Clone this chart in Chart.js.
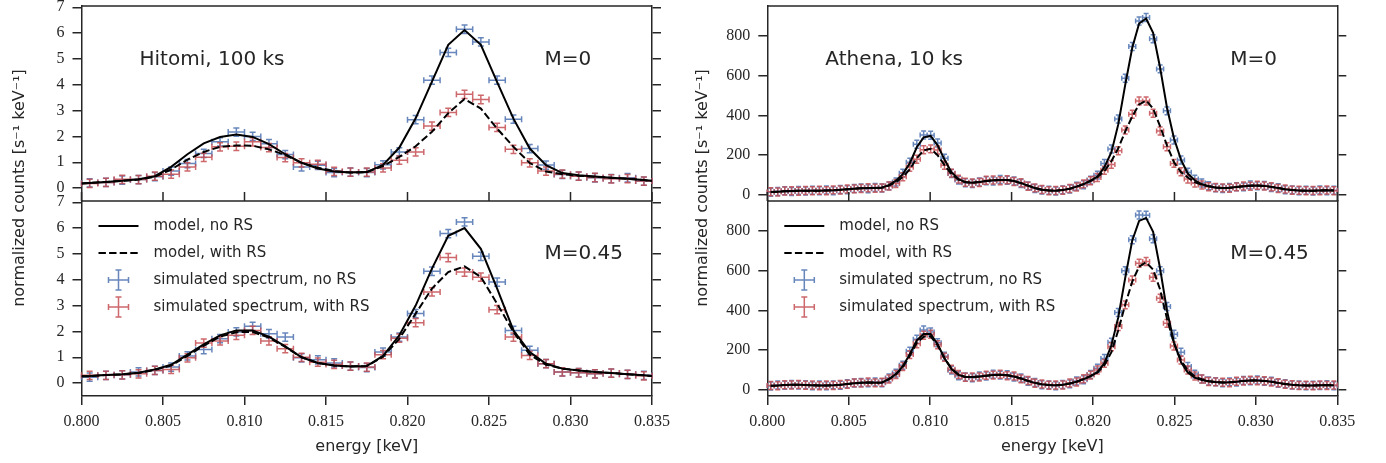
<!DOCTYPE html>
<html>
<head>
<meta charset="utf-8">
<title>Hitomi / Athena line spectra</title>
<script src="https://cdn.jsdelivr.net/npm/chart.js@4.4.1/dist/chart.umd.min.js"></script>
<style>
  html, body { margin: 0; padding: 0; background: #fff; }
  body { width: 1386px; height: 463px; position: relative; overflow: hidden; }
  canvas { position: absolute; top: 0; }
  #hitomi { left: 0; }
  #athena { left: 683px; }
</style>
</head>
<body>
<canvas id="hitomi" width="683" height="463"></canvas>
<canvas id="athena" width="703" height="463"></canvas>
<script>
// ---- Hitomi, 100 ks (1 eV bins) ----
const hitModelE = [0.800,0.8005,0.8015,0.8025,0.8035,0.8045,0.8055,0.8065,0.8075,0.8085,0.8095,0.8105,0.8115,0.8125,0.8135,0.8145,0.8155,0.8165,0.8175,0.8185,0.8195,0.8205,0.8215,0.8225,0.8235,0.8245,0.8255,0.8265,0.8275,0.8285,0.8295,0.8305,0.8315,0.8325,0.8335,0.8345,0.835];
const hitBinE = [0.8005,0.8015,0.8025,0.8035,0.8045,0.8055,0.8065,0.8075,0.8085,0.8095,0.8105,0.8115,0.8125,0.8135,0.8145,0.8155,0.8165,0.8175,0.8185,0.8195,0.8205,0.8215,0.8225,0.8235,0.8245,0.8255,0.8265,0.8275,0.8285,0.8295,0.8305,0.8315,0.8325,0.8335,0.8345];

const hitM0Model = [0.18,0.20,0.24,0.28,0.34,0.46,0.82,1.31,1.73,1.98,2.07,1.98,1.70,1.31,0.98,0.76,0.64,0.60,0.62,0.90,1.57,2.70,4.12,5.55,6.12,5.55,4.10,2.69,1.53,0.89,0.58,0.50,0.45,0.40,0.36,0.31,0.28];
const hitM0ModelRS = [0.18,0.20,0.24,0.28,0.33,0.44,0.72,1.10,1.40,1.60,1.65,1.64,1.50,1.28,0.98,0.79,0.66,0.60,0.62,0.85,1.21,1.62,2.18,2.90,3.45,3.08,2.30,1.60,0.97,0.64,0.54,0.48,0.44,0.40,0.36,0.31,0.28];
const hitM0Data = [0.20,0.22,0.31,0.33,0.44,0.66,0.95,1.34,1.79,2.17,2.00,1.72,1.30,0.82,0.88,0.60,0.62,0.60,0.90,1.40,2.65,4.18,5.25,6.15,5.66,4.18,2.67,1.53,0.89,0.53,0.46,0.40,0.37,0.40,0.27];
const hitM0DataRS = [0.18,0.22,0.34,0.33,0.46,0.54,0.82,1.19,1.60,1.62,1.79,1.57,1.18,0.98,0.92,0.65,0.62,0.62,0.78,1.08,1.40,2.40,2.93,3.63,3.43,2.35,1.50,0.98,0.66,0.54,0.46,0.41,0.36,0.37,0.27];

const hitM45Model = [0.26,0.27,0.31,0.34,0.40,0.53,0.71,1.10,1.50,1.85,2.04,2.04,1.80,1.42,1.00,0.78,0.68,0.64,0.66,1.05,1.85,3.00,4.43,5.70,6.00,5.20,3.66,2.04,1.20,0.75,0.56,0.49,0.43,0.39,0.34,0.30,0.27];
const hitM45ModelRS = [0.26,0.27,0.31,0.34,0.39,0.51,0.68,1.05,1.45,1.80,1.97,1.98,1.76,1.40,1.00,0.78,0.68,0.64,0.66,1.02,1.72,2.69,3.66,4.30,4.52,4.11,3.07,1.98,1.10,0.71,0.56,0.49,0.43,0.39,0.34,0.30,0.27];
const hitM45Data = [0.23,0.30,0.32,0.43,0.49,0.62,1.05,1.30,1.72,1.98,2.20,1.91,1.78,0.98,0.90,0.78,0.66,0.60,1.20,1.78,2.69,4.33,5.79,6.24,4.91,3.91,2.04,1.27,0.75,0.43,0.40,0.36,0.39,0.34,0.30];
const hitM45DataRS = [0.30,0.30,0.32,0.36,0.49,0.53,0.98,1.55,1.63,1.85,2.04,1.63,1.33,1.00,0.81,0.72,0.66,0.62,1.10,1.74,2.34,3.53,4.86,4.30,4.10,2.84,1.78,1.07,0.75,0.43,0.40,0.36,0.39,0.34,0.28];

// ---- Athena, 10 ks (~0.43 eV bins) ----
const athE = [0.80021,0.80064,0.80107,0.80149,0.80192,0.80235,0.80277,0.80320,0.80363,0.80405,
  0.80448,0.80491,0.80534,0.80576,0.80619,0.80662,0.80704,0.80747,0.80790,0.80832,
  0.80875,0.80918,0.80960,0.81003,0.81046,0.81088,0.81131,0.81174,0.81216,0.81259,
  0.81302,0.81344,0.81387,0.81430,0.81473,0.81515,0.81558,0.81601,0.81643,0.81686,
  0.81729,0.81771,0.81814,0.81857,0.81899,0.81942,0.81985,0.82027,0.82070,0.82113,
  0.82155,0.82198,0.82241,0.82283,0.82326,0.82369,0.82412,0.82454,0.82497,0.82540,
  0.82582,0.82625,0.82668,0.82710,0.82753,0.82796,0.82838,0.82881,0.82924,0.82966,
  0.83009,0.83052,0.83095,0.83137,0.83180,0.83223,0.83265,0.83308,0.83351,0.83393,
  0.83436,0.83479];

const athM0Model = [15,17,19,20,21,22,22,22,23,24, 26,29,32,34,35,35,38,50,72,105,
  160,240,290,297,250,178,115,80,65,62, 65,70,74,76,75,70,60,47,35,27,
  23,22,25,32,42,55,72,92,140,215, 355,555,740,862,887,815,640,440,285,178,
  108,74,54,44,38,35,36,40,44,47, 48,46,41,35,29,25,23,22,22,23, 24,23];
const athM0ModelRS = [15,17,19,20,21,22,22,22,23,24, 26,29,32,34,35,35,37,48,65,90,
  130,185,225,232,200,150,105,78,64,62, 65,70,74,76,75,70,60,47,35,27,
  23,22,25,32,42,55,70,90,120,170, 235,320,395,455,475,435,345,250,165,115,
  88,65,52,44,38,35,36,40,44,47, 48,46,41,35,29,25,23,22,22,23, 24,23];
const athM0Data = [14,18,22,18,23,20,24,21,25,22, 28,27,33,36,32,38,35,46,66,110,
  165,255,302,300,262,185,108,75,62,58, 66,72,70,78,74,71,58,46,33,25,
  24,20,26,30,44,52,75,100,159,231, 382,587,746,875,892,785,634,423,277,176,
  114,80,60,47,36,33,38,42,41,50, 46,48,38,37,27,26,21,24,20,25, 22,24];
const athM0DataRS = [16,15,20,22,19,23,21,24,22,26, 25,30,31,33,37,34,36,45,58,92,
  140,180,228,232,226,150,110,80,64,60, 63,74,76,72,77,68,62,44,36,28,
  22,23,24,33,40,56,72,88,125,154, 223,327,406,473,473,411,322,243,159,117,
  80,60,50,42,38,36,34,41,45,44, 49,45,42,33,30,24,24,21,23,22, 25,22];

const athM45Model = [22,23,25,26,26,25,24,23,23,24, 26,30,34,37,38,37,38,55,80,120,
  180,250,282,282,230,160,105,76,66,65, 68,72,76,77,74,68,58,46,36,29,
  25,24,27,33,42,55,70,90,135,225, 365,565,752,850,865,795,610,400,240,140,
  88,62,50,44,40,38,39,42,46,48, 48,46,42,36,30,26,24,23,23,24, 25,24];
const athM45ModelRS = [22,23,25,26,26,25,24,23,23,24, 26,30,34,37,38,37,38,55,78,115,
  172,238,268,270,225,160,108,78,66,65, 68,72,76,77,74,68,58,46,36,29,
  25,24,27,33,42,55,70,88,125,190, 300,430,545,620,642,605,505,360,235,150,
  98,68,54,44,40,38,39,42,46,48, 48,46,42,36,30,26,24,23,23,24, 25,24];
const athM45Data = [20,25,24,28,25,27,22,25,21,26, 24,32,35,38,36,40,37,60,85,125,
  195,255,302,292,238,170,100,72,66,62, 70,70,79,75,77,66,60,44,38,27,
  26,22,28,31,45,52,78,109,159,240, 390,600,755,880,878,760,600,420,280,190,
  118,80,55,45,42,36,41,40,48,46, 50,44,44,34,32,25,25,22,24,23, 27,22];
const athM45DataRS = [23,22,27,25,28,24,25,22,25,23, 28,29,36,35,40,36,39,55,78,118,
  178,232,275,280,228,165,105,78,64,66, 66,74,75,79,72,70,56,48,34,30,
  24,25,25,35,40,57,75,101,134,218, 319,428,553,637,646,567,461,335,221,151,
  101,70,55,43,41,39,37,44,45,49, 47,47,40,37,29,27,23,24,22,25, 23,25];

// tick positions and labels
const xTickE = [0.800,0.805,0.810,0.815,0.820,0.825,0.830,0.835];
const xTickLabels = ['0.800','0.805','0.810','0.815','0.820','0.825','0.830','0.835'];
const hitYTicks = [0,1,2,3,4,5,6,7];
const athYTicks = [0,200,400,600,800];

const INK = '#262626';
const BLUE = 'rgba(76,114,176,0.85)';
const RED = 'rgba(196,78,82,0.85)';
const SANS = '"DejaVu Sans", sans-serif';
const SERIF = '"Liberation Serif", serif';

Chart.defaults.font.family = SANS;
Chart.defaults.color = INK;

function pts(xs, ys) {
  return xs.map((x, i) => ({x: x, y: ys[i]}));
}

// horizontal + vertical error bars with caps, under the model lines
const errorBars = {
  id: 'errorBars',
  beforeDatasetsDraw(chart) {
    const ctx = chart.ctx;
    const xs = chart.scales.x;
    chart.data.datasets.forEach(ds => {
      if (!ds.errY) return;
      const ys = chart.scales[ds.yAxisID];
      const cap = ds.cap;
      ctx.save();
      ctx.strokeStyle = ds.borderColor;
      ctx.lineWidth = 1.5;
      ctx.beginPath();
      ds.data.forEach(p => {
        const cx = xs.getPixelForValue(p.x), cy = ys.getPixelForValue(p.y);
        const x0 = xs.getPixelForValue(p.x - ds.errX), x1 = xs.getPixelForValue(p.x + ds.errX);
        const y0 = ys.getPixelForValue(p.y - ds.errY), y1 = ys.getPixelForValue(p.y + ds.errY);
        ctx.moveTo(x0, cy); ctx.lineTo(x1, cy);
        ctx.moveTo(cx, y0); ctx.lineTo(cx, y1);
        ctx.moveTo(x0, cy - cap); ctx.lineTo(x0, cy + cap);
        ctx.moveTo(x1, cy - cap); ctx.lineTo(x1, cy + cap);
        ctx.moveTo(cx - cap, y0); ctx.lineTo(cx + cap, y0);
        ctx.moveTo(cx - cap, y1); ctx.lineTo(cx + cap, y1);
      });
      ctx.stroke();
      ctx.restore();
    });
  }
};

// top spine, panel divider, labels, shared y title and legend
const panelDecor = {
  id: 'panelDecor',
  afterDraw(chart, args, opts) {
    const ctx = chart.ctx, ca = chart.chartArea;
    const xs = chart.scales.x, top = chart.scales.yTop, bot = chart.scales.yBot;
    ctx.save();
    ctx.strokeStyle = INK;
    ctx.lineWidth = 1.5;
    ctx.beginPath();
    ctx.moveTo(ca.left, ca.top); ctx.lineTo(ca.right, ca.top);
    ctx.moveTo(ca.left, bot.top); ctx.lineTo(ca.right, bot.top);
    xs.ticks.forEach(t => {
      const x = xs.getPixelForValue(t.value);
      ctx.moveTo(x, bot.top); ctx.lineTo(x, bot.top - 9);
    });
    ctx.stroke();

    ctx.fillStyle = INK;
    ctx.textBaseline = 'middle';
    ctx.textAlign = 'left';
    ctx.font = '20px ' + SANS;
    ctx.fillText(opts.name, ca.left + 58, top.top + 54);
    ctx.fillText(opts.mTop, ca.left + 463, top.top + 54);
    ctx.fillText(opts.mBot, ca.left + 463, bot.top + 53);

    ctx.save();
    ctx.translate(ca.left - opts.titleGap, (ca.top + ca.bottom) / 2 - 13);
    ctx.rotate(-Math.PI / 2);
    ctx.textAlign = 'center';
    ctx.font = '16px ' + SANS;
    ctx.fillText('normalized counts [s⁻¹ keV⁻¹]', 0, 0);
    ctx.restore();

    // legend inside the lower panel
    const L = ca.left;
    chart.data.datasets.filter(ds => ds.yAxisID === 'yBot').forEach((ds, k) => {
      const y = bot.top + 25 + 27 * k;
      ctx.strokeStyle = ds.borderColor;
      ctx.beginPath();
      if (ds.errY) {
        const cx = L + 37;
        ctx.lineWidth = 1.5;
        ctx.setLineDash([]);
        ctx.moveTo(cx - 10, y); ctx.lineTo(cx + 10, y);
        ctx.moveTo(cx, y - 10); ctx.lineTo(cx, y + 10);
        ctx.moveTo(cx - 10, y - 3); ctx.lineTo(cx - 10, y + 3);
        ctx.moveTo(cx + 10, y - 3); ctx.lineTo(cx + 10, y + 3);
        ctx.moveTo(cx - 3, y - 10); ctx.lineTo(cx + 3, y - 10);
        ctx.moveTo(cx - 3, y + 10); ctx.lineTo(cx + 3, y + 10);
      } else {
        ctx.lineWidth = ds.borderWidth;
        ctx.setLineDash(ds.borderDash || []);
        ctx.moveTo(L + 17, y); ctx.lineTo(L + 57, y);
      }
      ctx.stroke();
      ctx.setLineDash([]);
      ctx.font = '15px ' + SANS;
      ctx.fillText(ds.label, L + 72, y);
    });
    ctx.restore();
  }
};

function panelSets(c, model, modelRS, data, dataRS, axis) {
  return [
    {label: 'model, no RS', data: pts(c.modelE, model), yAxisID: axis,
     borderColor: '#000', borderWidth: 2, pointRadius: 0, tension: 0},
    {label: 'model, with RS', data: pts(c.modelE, modelRS), yAxisID: axis,
     borderColor: '#000', borderWidth: 2, borderDash: [7.4, 3.2], pointRadius: 0, tension: 0},
    {label: 'simulated spectrum, no RS', data: pts(c.binE, data), yAxisID: axis,
     borderColor: BLUE, showLine: false, pointRadius: 0, errX: c.errX, errY: c.errY, cap: c.cap},
    {label: 'simulated spectrum, with RS', data: pts(c.binE, dataRS), yAxisID: axis,
     borderColor: RED, showLine: false, pointRadius: 0, errX: c.errX, errY: c.errY, cap: c.cap}
  ];
}

function yAxis(c, pos, stack, weight) {
  return {
    type: 'linear', position: pos, stack: stack, weight: weight,
    min: c.yMin, max: c.yMax,
    afterBuildTicks(s) { s.ticks = c.yTicks.map(v => ({value: v})); },
    afterFit(s) { s.width = pos === 'left' ? c.leftW : c.rightW; s.paddingTop = 0; s.paddingBottom = 0; },
    grid: {drawOnChartArea: false, tickLength: 9, color: INK, lineWidth: 1.5},
    border: {color: INK, width: 1.5},
    ticks: {display: pos === 'left', autoSkip: false, padding: 8,
            color: INK, font: {family: SERIF, size: 16},
            callback: v => String(v)}
  };
}

function column(id, c) {
  new Chart(document.getElementById(id), {
    type: 'line',
    data: {
      datasets: panelSets(c, c.topModel, c.topModelRS, c.topData, c.topDataRS, 'yTop')
        .concat(panelSets(c, c.botModel, c.botModelRS, c.botData, c.botDataRS, 'yBot'))
    },
    options: {
      responsive: false,
      animation: false,
      events: [],
      devicePixelRatio: 1,
      layout: {padding: {top: 6, left: 0, right: 0, bottom: 0}, autoPadding: false},
      plugins: {
        legend: {display: false},
        tooltip: {enabled: false},
        panelDecor: {name: c.name, mTop: 'M=0', mBot: 'M=0.45', titleGap: c.titleGap}
      },
      scales: {
        x: {
          type: 'linear', min: 0.8, max: 0.835,
          afterBuildTicks(s) { s.ticks = xTickE.map(v => ({value: v})); },
          afterFit(s) { s.height = 67; s.paddingLeft = 0; s.paddingRight = 0; },
          grid: {drawOnChartArea: false, tickLength: 9, color: INK, lineWidth: 1.5},
          border: {color: INK, width: 1.5},
          ticks: {padding: 7, color: INK, maxRotation: 0, autoSkip: false,
                  font: {family: SERIF, size: 16},
                  callback: (v, i) => xTickLabels[i]},
          title: {display: true, text: 'energy [keV]', color: INK,
                  font: {family: SANS, size: 16}, padding: {top: 0, bottom: 7}}
        },
        yTop: yAxis(c, 'left', 'L', 2),
        yBot: yAxis(c, 'left', 'L', 1),
        yTopR: yAxis(c, 'right', 'R', 1),
        yBotR: yAxis(c, 'right', 'R', 2)
      }
    },
    plugins: [errorBars, panelDecor]
  });
}

column('hitomi', {
  name: 'Hitomi, 100 ks', modelE: hitModelE, binE: hitBinE,
  topModel: hitM0Model, topModelRS: hitM0ModelRS, topData: hitM0Data, topDataRS: hitM0DataRS,
  botModel: hitM45Model, botModelRS: hitM45ModelRS, botData: hitM45Data, botDataRS: hitM45DataRS,
  yMin: -0.5, yMax: 7.05, yTicks: hitYTicks, errX: 0.0005, errY: 0.16, cap: 3,
  leftW: 81.5, rightW: 31, titleGap: 61.5
});

column('athena', {
  name: 'Athena, 10 ks', modelE: athE, binE: athE,
  topModel: athM0Model, topModelRS: athM0ModelRS, topData: athM0Data, topDataRS: athM0DataRS,
  botModel: athM45Model, botModelRS: athM45ModelRS, botData: athM45Data, botDataRS: athM45DataRS,
  yMin: -30, yMax: 950, yTicks: athYTicks, errX: 0.000213, errY: 20, cap: 2.5,
  leftW: 84.3, rightW: 48.7, titleGap: 64
});
</script>
</body>
</html>
